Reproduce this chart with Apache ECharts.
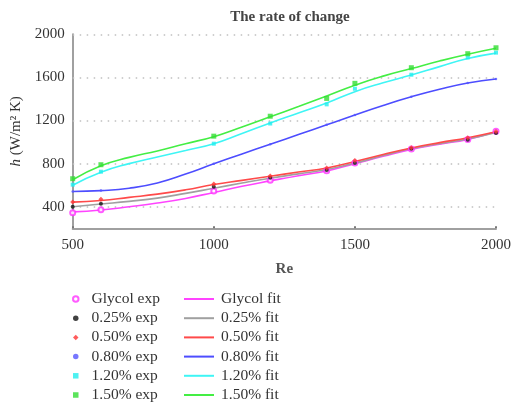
<!DOCTYPE html>
<html>
<head>
<meta charset="utf-8">
<script src="https://cdn.jsdelivr.net/npm/echarts@6/dist/echarts.min.js"></script>
<style>html,body{margin:0;padding:0;background:#fff;}#c{width:514px;height:405px;}</style>
</head>
<body>
<div id="c"></div>
<script>
// Reynolds numbers
var fitRe = [500, 600, 700, 800, 900, 1000, 1100, 1200, 1300, 1400, 1500, 1600, 1700, 1800, 1900, 2000];
var expRe = [500, 600, 1000, 1200, 1400, 1500, 1700, 1900, 2000];

// fitted curves (h, W/m2K)
var glycolFit = [352, 370, 400, 434, 477, 533, 590, 640, 688, 732, 800, 868, 932, 980, 1025, 1095];
var p025Fit   = [400, 425, 450, 480, 524, 572, 620, 665, 705, 745, 805, 875, 940, 985, 1028, 1088];
var p050Fit   = [443, 458, 487, 517, 557, 607, 645, 683, 722, 760, 820, 885, 945, 995, 1040, 1095];
var p080Fit   = [542, 550, 572, 620, 703, 798, 890, 980, 1070, 1160, 1252, 1340, 1420, 1490, 1548, 1585];
var p120Fit   = [600, 720, 800, 862, 922, 985, 1080, 1178, 1270, 1362, 1468, 1550, 1622, 1700, 1775, 1825];
var p150Fit   = [650, 780, 858, 918, 985, 1050, 1140, 1235, 1330, 1428, 1528, 1612, 1682, 1752, 1815, 1870];

// experimental points
var glycolExp = [345, 372, 545, 645, 735, 805, 935, 1025, 1100];
var p025Exp   = [400, 428, 585, 668, 742, 805, 938, 1022, 1085];
var p050Exp   = [445, 470, 612, 685, 760, 828, 948, 1040, 1098];
var p080Exp   = [542, 550, 798, 980, 1160, 1252, 1420, 1548, 1585];
var p120Exp   = [605, 725, 985, 1172, 1350, 1495, 1625, 1785, 1830];
var p150Exp   = [660, 790, 1055, 1240, 1405, 1545, 1690, 1820, 1875];

var yTicks = [400, 800, 1200, 1600, 2000];

function pairs(xs, ys) { return xs.map(function (x, i) { return [x, ys[i]]; }); }

var serif = '"Liberation Serif", "DejaVu Serif", serif';
var fits = [
  ['Glycol fit', glycolFit, '#ff44ff'],
  ['0.25% fit', p025Fit, '#a0a0a0'],
  ['0.50% fit', p050Fit, '#ff4a4a'],
  ['0.80% fit', p080Fit, '#4d4dff'],
  ['1.20% fit', p120Fit, '#3ff5f5'],
  ['1.50% fit', p150Fit, '#44ee44']
];
var exps = [
  ['Glycol exp', glycolExp, '#ff33ff', 'emptyCircle', 5],
  ['0.25% exp', p025Exp, '#111111', 'circle', 4],
  ['0.50% exp', p050Exp, '#ff3333', 'diamond', 5],
  ['0.80% exp', p080Exp, '#5555ff', 'circle', 2.5],
  ['1.20% exp', p120Exp, '#22eeee', 'rect', 4],
  ['1.50% exp', p150Exp, '#33dd33', 'rect', 5]
];

var series = [];
fits.forEach(function (f, i) {
  var s = {
    name: f[0], type: 'line', data: pairs(fitRe, f[1]), smooth: 0.5,
    symbol: 'none', lineStyle: { color: f[2], width: 1.6 }, itemStyle: { color: f[2] },
    z: 2, silent: true
  };
  if (i === 0) {
    s.markLine = {
      silent: true, symbol: 'none', label: { show: false },
      lineStyle: { color: '#c0c0c0', type: [1.5, 5.5], width: 1.5 },
      data: yTicks.map(function (v) { return { yAxis: v }; }),
      z: 1
    };
  }
  series.push(s);
});
exps.forEach(function (e) {
  series.push({
    name: e[0], type: 'scatter', data: pairs(expRe, e[1]),
    symbol: e[3], symbolSize: e[4],
    itemStyle: { color: e[2], borderColor: e[2], borderWidth: e[3] === 'emptyCircle' ? 1.2 : 0 },
    z: 3
  });
});

var legendText = { fontFamily: serif, fontSize: 15.5, color: '#333', lineHeight: 15 };

var chart = echarts.init(document.getElementById('c'), null, { renderer: 'canvas' });
chart.setOption({
  animation: false,
  backgroundColor: '#ffffff',
  title: {
    text: 'The rate of change', left: 285, top: 5, textAlign: 'center',
    textStyle: { fontFamily: serif, fontSize: 15, fontWeight: 'bold', color: '#444' }
  },
  grid: { left: 72.7, right: 16.7, top: 34.3, bottom: 176.7 },
  legend: [
    {
      data: exps.map(function (e) { return e[0]; }),
      orient: 'vertical', left: 72, top: 291, padding: 0,
      itemWidth: 5.5, itemHeight: 5.5, itemGap: 3.2,
      textStyle: Object.assign({ padding: [0, 0, 0, 8] }, legendText),
      selectedMode: false
    },
    {
      data: fits.map(function (f) { return { name: f[0], icon: 'rect' }; }),
      orient: 'vertical', left: 184, top: 291, padding: 0,
      itemWidth: 30, itemHeight: 2, itemGap: 3.2,
      textStyle: Object.assign({ padding: [0, 0, 0, 2] }, legendText),
      selectedMode: false
    }
  ],
  xAxis: {
    type: 'value', min: 500, max: 2000, interval: 500,
    name: 'Re', nameLocation: 'middle', nameGap: 33,
    nameTextStyle: { fontFamily: serif, fontSize: 15, fontWeight: 'bold', color: '#555' },
    axisLine: { show: true, lineStyle: { color: '#a0a0a0', width: 2 } },
    axisTick: { show: true, length: 2, inside: true, lineStyle: { color: '#777', width: 2 } },
    axisLabel: { fontFamily: serif, fontSize: 15, color: '#333', margin: 9,
      formatter: function (v) { return String(v); } },
    splitLine: { show: false }
  },
  yAxis: {
    type: 'value', min: 200, max: 2000, interval: 200,
    name: '{i|h} (W/m² K)', nameLocation: 'middle', nameGap: 47, nameRotate: 90,
    nameTextStyle: {
      fontFamily: serif, fontSize: 15, color: '#333',
      rich: { i: { fontFamily: serif, fontSize: 15, fontStyle: 'italic', color: '#333' } }
    },
    axisLine: { show: true, lineStyle: { color: '#a0a0a0', width: 2 } },
    axisTick: { show: false },
    axisLabel: {
      fontFamily: serif, fontSize: 15, color: '#333', margin: 8,
      formatter: function (v) { return v % 400 === 0 ? String(v) : ''; }
    },
    splitLine: { show: false }
  },
  series: series
});
</script>
</body>
</html>
